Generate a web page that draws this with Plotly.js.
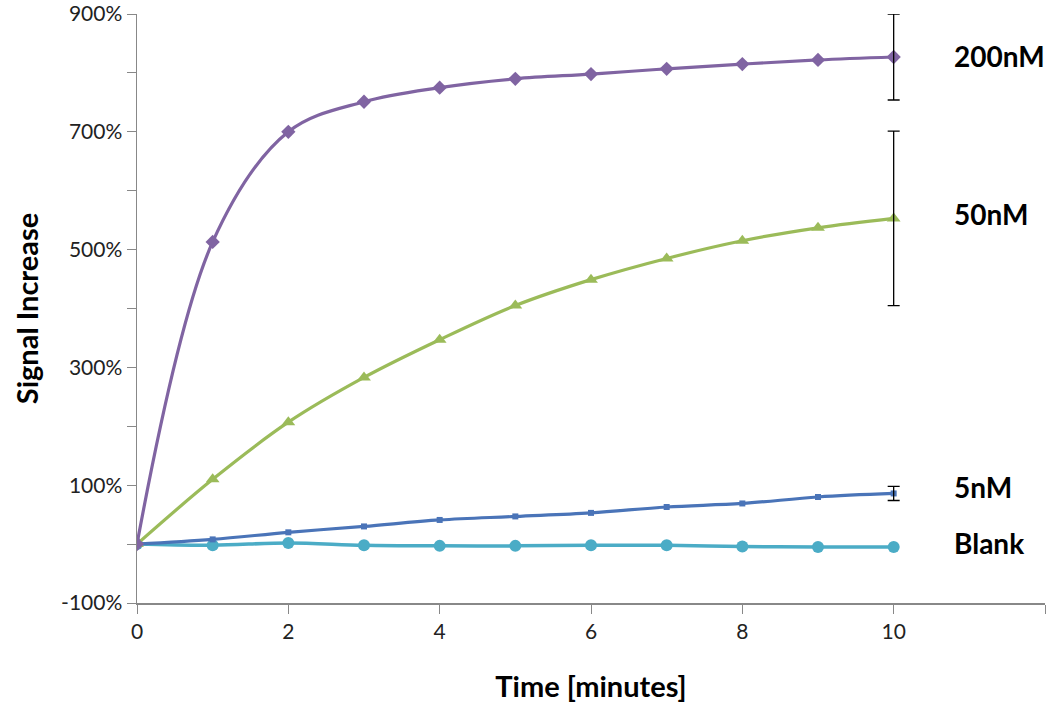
<!DOCTYPE html>
<html>
<head>
<meta charset="utf-8">
<script src="https://cdn.plot.ly/plotly-3.0.1.min.js"></script>
<style>html,body{margin:0;padding:0;background:#fff;}#chart{width:1050px;height:712px;}</style>
</head>
<body>
<div id="chart"></div>
<script>
const time = [0,1,2,3,4,5,6,7,8,9,10];
const s200 = [0,513,700,751,775,790,798,807,815,822,827];
const s50  = [0,110,207,283,347,405,449,485,515,537,553];
const s5   = [0,8,20,30,41,47,53,63,69,80,86];
const blank= [0,-2,2,-2,-3,-3,-2,-2,-4,-5,-5];
const errX = [10,10,10];
const errY = [827,553,86];
const errV = [73,148,12];
const labels = ["200nM","50nM","5nM","Blank"];
const labelY = [829,561,97,2];
const yTicks = [-100,0,100,200,300,400,500,600,700,800,900];
const yText = ["-100%","","100%","","300%","","500%","","700%","","900%"];
const xTicks = [0,2,4,6,8,10,12];
const xText = ["0","2","4","6","8","10",""];

const F = "Lato, 'Open Sans', sans-serif";
const mk = (y, color, sym, size, w) => ({
  x: time, y: y, mode: 'lines+markers', type: 'scatter',
  line: {color: color, width: w || 3.2, shape: 'spline', smoothing: 1},
  marker: {color: color, symbol: sym, size: size},
  showlegend: false, hoverinfo: 'skip'
});
const traces = [
  mk(blank, '#4BACC6', 'circle', 12, 3.5),
  mk(s5, '#4A74B8', 'square', 6),
  mk(s50, '#9BBB59', 'triangle-up', 12),
  mk(s200, '#8064A2', 'diamond', 11),
  {x: errX, y: errY, mode: 'none', type: 'scatter', showlegend: false, hoverinfo: 'skip',
   error_y: {type: 'data', array: errV, visible: true, color: '#000', thickness: 1.3, width: 6}}
];
const annotations = labels.map((t, i) => ({
  x: 10.77, y: labelY[i], xref: 'x', yref: 'y', text: t, showarrow: false,
  xanchor: 'left', yanchor: 'middle', font: {family: F, size: 28, color: '#000', weight: 'bold'}
}));
const layout = {
  width: 1050, height: 712,
  margin: {l: 137, r: 5, t: 14, b: 109},
  paper_bgcolor: '#fff', plot_bgcolor: '#fff',
  font: {family: F, color: '#222'},
  xaxis: {range: [0, 12], tickvals: xTicks, ticktext: xText, showgrid: false, zeroline: false,
    showline: true, linecolor: '#888', linewidth: 1.5, ticks: 'outside', ticklen: 9, tickcolor: '#888',
    tickfont: {size: 21, family: F, color: '#222'},
    title: {text: 'Time [minutes]', font: {size: 29, family: F, color: '#000', weight: 'bold'}, standoff: 35}},
  yaxis: {range: [-100, 900], tickvals: yTicks, ticktext: yText, showgrid: false, zeroline: false,
    showline: true, linecolor: '#888', linewidth: 1.5, ticks: 'outside', ticklen: 9, tickcolor: '#888',
    tickfont: {size: 21, family: F, color: '#222'},
    title: {text: 'Signal Increase', font: {size: 29, family: F, color: '#000', weight: 'bold'}, standoff: 14}},
  annotations: annotations
};
Plotly.newPlot('chart', traces, layout, {displayModeBar: false, staticPlot: true});
</script>
</body>
</html>
